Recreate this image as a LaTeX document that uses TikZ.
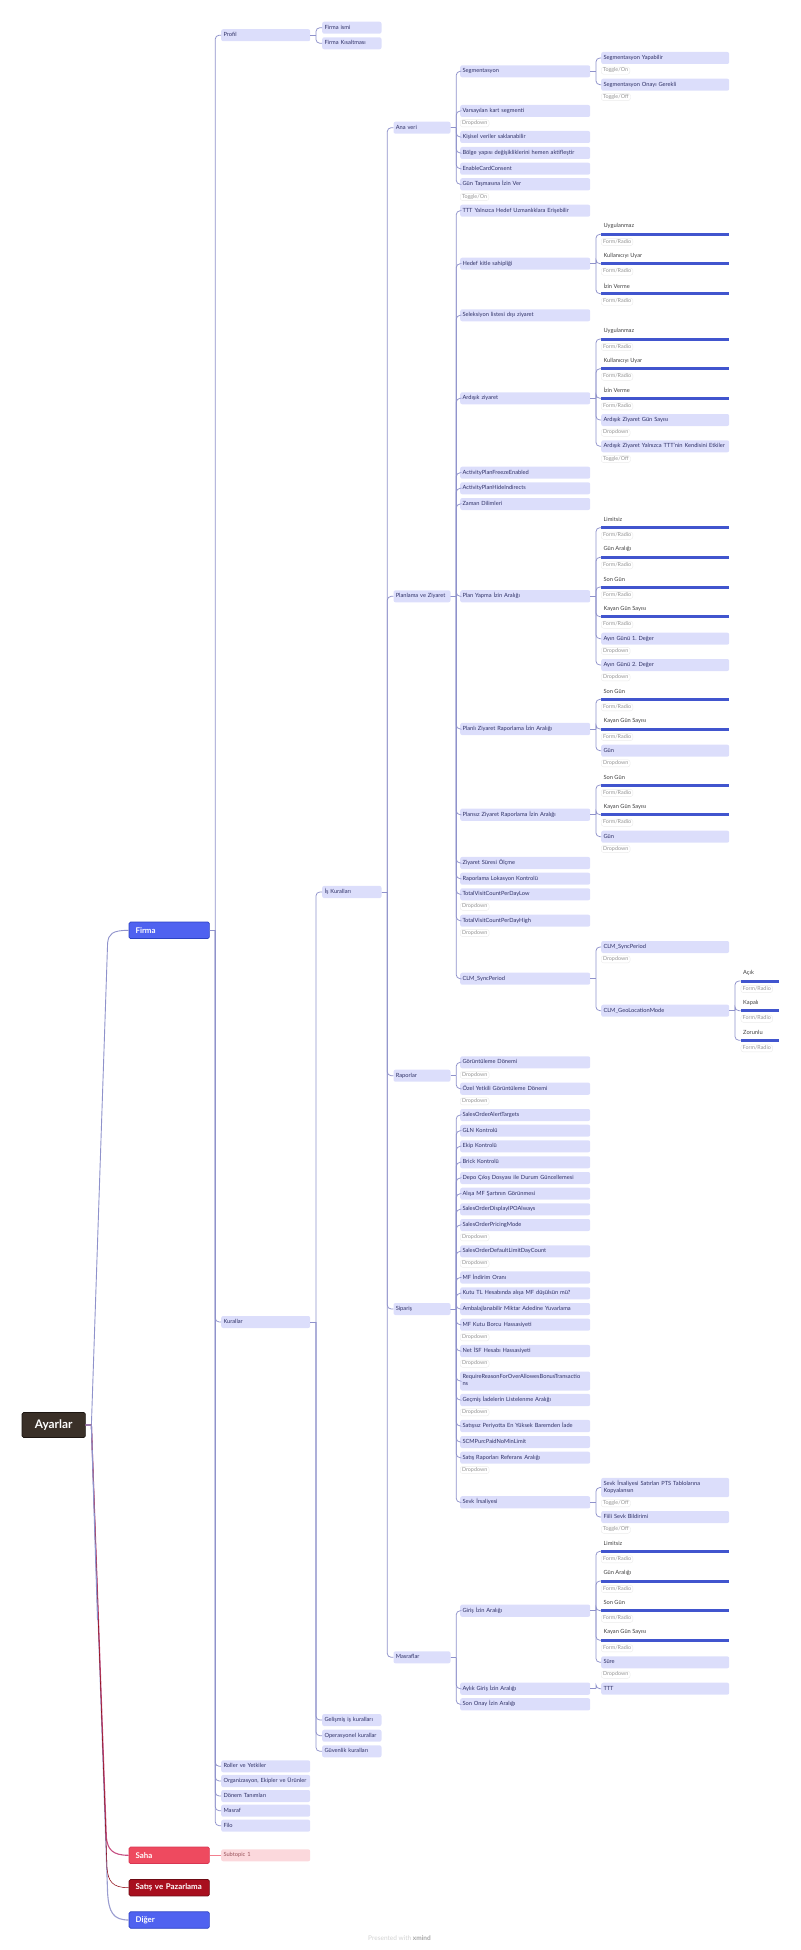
\documentclass[tikz,border=0pt]{standalone}
\usepackage{fontspec}
\setmainfont{Lato}
\frenchspacing
\definecolor{boxblue}{HTML}{DCDEFB}
\definecolor{boxtext}{HTML}{2F3166}
\definecolor{linkblue}{HTML}{8F92CB}
\definecolor{barblue}{HTML}{4155CE}
\definecolor{firmablue}{HTML}{4F62F0}
\definecolor{firmaedge}{HTML}{2C42C4}
\definecolor{sahared}{HTML}{EE4A5F}
\definecolor{sahaedge}{HTML}{D93552}
\definecolor{satisred}{HTML}{A80F1E}
\definecolor{satisedge}{HTML}{6E0A14}
\definecolor{rootbrown}{HTML}{3A3028}
\definecolor{rootedge}{HTML}{1C1612}
\definecolor{subpink}{HTML}{FBD8DC}
\tikzset{
	box/.style={anchor=west, align=left, fill=boxblue, text=boxtext, rounded corners=2pt, inner xsep=2.3pt, inner ysep=2.5pt, minimum height=12pt, font=\fontsize{5.7}{7}\selectfont, execute at begin node=\strut, execute at end node=\strut},
	boxtwo/.style={box, text width=84.4pt},
	boxthree/.style={box, text width=54.7pt},
	boxfour/.style={box, text width=52.4pt},
	boxfive/.style={box, text width=125.4pt},
	boxsix/.style={box, text width=123.4pt},
	barlabel/.style={anchor=west, yshift=8pt, inner xsep=2.3pt, text=black!75, font=\fontsize{5.7}{7}\selectfont},
	radiobar/.style={anchor=west, fill=barblue, inner sep=0pt, minimum height=3pt, label={[barlabel]west:#1}},
	barsix/.style={radiobar=#1, minimum width=128pt},
	barseven/.style={radiobar=#1, minimum width=38pt},
	tagbox/.style={anchor=west, draw=black!8, fill=white, text=black!42, rounded corners=2.5pt, inner xsep=1.8pt, inner ysep=0.6pt, line width=0.4pt, font=\fontsize{5.4}{6}\selectfont, execute at begin node=\strut},
	head/.style={anchor=west, text=white, rounded corners=1.5pt, line width=0.7pt, minimum width=80.3pt, minimum height=16.5pt, inner xsep=6.5pt, text width=67.3pt, align=left, font=\fontsize{7.9}{10}\selectfont\bfseries},
	link/.style={draw=linkblue, line width=0.75pt, rounded corners=4pt},
}
\begin{document}
\begin{tikzpicture}[x=1pt,y=-1pt]
	\useasboundingbox (0,0) rectangle (800,1950);
	\def\coltwo{221}
	\def\colthree{322}
	\def\colfour{393.3}
	\def\colfive{460}
	\def\colsix{601}
	\def\colseven{740.7}
	% main topics
	\node[anchor=west, fill=rootbrown, draw=rootedge, line width=0.7pt, text=white, rounded corners=1.5pt, minimum width=63.3pt, minimum height=25pt, align=center, font=\fontsize{11.8}{14}\selectfont\bfseries] (root) at (21.7,1425) {Ayarlar};
	\node[head, fill=firmablue, draw=firmaedge] (firma) at (128.7,930.3) {Firma};
	\node[head, fill=sahared, draw=sahaedge] (saha) at (128.7,1855.3) {Saha};
	\node[head, fill=satisred, draw=satisedge] (satis) at (128.7,1887.7) {\mbox{Satış ve Pazarlama}};
	\node[head, fill=firmablue, draw=firmaedge] (diger) at (128.7,1920) {Diğer};
	% firma
	\node[boxtwo] (profil) at (\coltwo,35.2) {Profil};
	\node[boxtwo] (kurallar) at (\coltwo,1322) {Kurallar};
	\node[boxtwo] (roller) at (\coltwo,1766.3) {Roller ve Yetkiler};
	\node[boxtwo] (organizasyon) at (\coltwo,1781) {Organizasyon, Ekipler ve Ürünler};
	\node[boxtwo] (donem) at (\coltwo,1796) {Dönem Tanımları};
	\node[boxtwo] (masraf) at (\coltwo,1810.7) {Masraf};
	\node[boxtwo] (filo) at (\coltwo,1825.7) {Filo};
	\node[boxtwo, fill=subpink, text=satisedge!70] (subtopic) at (\coltwo,1855.3) {Subtopic 1};
	\node[boxthree] (firmaismi) at (\colthree,27.7) {Firma ismi};
	\node[boxthree] (kisaltma) at (\colthree,43.3) {Firma Kısaltması};
	% kurallar
	\node[boxthree] (iskurallari) at (\colthree,892) {İş Kuralları};
	\node[boxthree] (gelismis) at (\colthree,1720) {Gelişmiş iş kuralları};
	\node[boxthree] (operasyonel) at (\colthree,1735.7) {Operasyonel kurallar};
	\node[boxthree] (guvenlik) at (\colthree,1751.3) {Güvenlik kuralları};
	\node[boxfour] (anaveri) at (\colfour,127.7) {Ana veri};
	\node[boxfour] (planlama) at (\colfour,596.3) {Planlama ve Ziyaret};
	\node[boxfour] (raporlar) at (\colfour,1075.7) {Raporlar};
	\node[boxfour] (siparis) at (\colfour,1309) {Sipariş};
	\node[boxfour] (masraflar) at (\colfour,1657.3) {Masraflar};
	% ana veri
	\node[boxfive] (segment) at (\colfive,71.3) {Segmentasyon};
	\node[boxfive] (varsayilan) at (\colfive,111) {Varsayılan kart segmenti};
	\node[boxfive] (kisisel) at (\colfive,137) {Kişisel veriler saklanabilir};
	\node[boxfive] (bolge) at (\colfive,153) {Bölge yapısı değişikliklerini hemen aktifleştir};
	\node[boxfive] (consent) at (\colfive,168.7) {EnableCardConsent};
	\node[boxfive] (tasma) at (\colfive,184.3) {Gün Taşmasına İzin Ver};
	\node[boxsix] (segyapabilir) at (\colsix,58) {Segmentasyon Yapabilir};
	\node[boxsix] (segonay) at (\colsix,84.7) {Segmentasyon Onayı Gerekli};
	% planlama ve ziyaret
	\node[boxfive] (yalnizca) at (\colfive,210.7) {TTT Yalnızca Hedef Uzmanlıklara Erişebilir};
	\node[boxfive] (hedef) at (\colfive,263.7) {Hedef kitle sahipliği};
	\node[boxfive] (seleksiyon) at (\colfive,315.3) {Seleksiyon listesi dışı ziyaret};
	\node[boxfive] (ardisik) at (\colfive,398.3) {Ardışık ziyaret};
	\node[boxfive] (freeze) at (\colfive,472.7) {ActivityPlanFreezeEnabled};
	\node[boxfive] (hide) at (\colfive,488.3) {ActivityPlanHideIndirects};
	\node[boxfive] (zaman) at (\colfive,504) {Zaman Dilimleri};
	\node[boxfive] (planyapma) at (\colfive,596.3) {Plan Yapma İzin Aralığı};
	\node[boxfive] (planli) at (\colfive,729) {Planlı Ziyaret Raporlama İzin Aralığı};
	\node[boxfive] (plansiz) at (\colfive,814.7) {Plansız Ziyaret Raporlama İzin Aralığı};
	\node[boxfive] (sure) at (\colfive,863) {Ziyaret Süresi Ölçme};
	\node[boxfive] (lokasyon) at (\colfive,878.7) {Raporlama Lokasyon Kontrolü};
	\node[boxfive] (countlow) at (\colfive,894.3) {TotalVisitCountPerDayLow};
	\node[boxfive] (counthigh) at (\colfive,920.7) {TotalVisitCountPerDayHigh};
	\node[boxfive] (clm) at (\colfive,978.7) {CLM\_SyncPeriod};
	\node[barsix=Uygulanmaz] (hedefa) at (\colsix,234.3) {};
	\node[barsix=Kullanıcıyı Uyar] (hedefb) at (\colsix,263.7) {};
	\node[barsix=İzin Verme] (hedefc) at (\colsix,293.7) {};
	\node[barsix=Uygulanmaz] (ardisika) at (\colsix,339) {};
	\node[barsix=Kullanıcıyı Uyar] (ardisikb) at (\colsix,368.7) {};
	\node[barsix=İzin Verme] (ardisikc) at (\colsix,398.3) {};
	\node[boxsix] (ardisikd) at (\colsix,420) {Ardışık Ziyaret Gün Sayısı};
	\node[boxsix] (ardisike) at (\colsix,446.3) {Ardışık Ziyaret Yalnızca TTT'nin Kendisini Etkiler};
	\node[barsix=Limitsiz] (plana) at (\colsix,527.7) {};
	\node[barsix=Gün Aralığı] (planb) at (\colsix,557.3) {};
	\node[barsix=Son Gün] (planc) at (\colsix,587) {};
	\node[barsix=Kayan Gün Sayısı] (pland) at (\colsix,616.7) {};
	\node[boxsix] (plane) at (\colsix,638.7) {Ayın Günü 1. Değer};
	\node[boxsix] (planf) at (\colsix,665) {Ayın Günü 2. Değer};
	\node[barsix=Son Gün] (planlia) at (\colsix,699.3) {};
	\node[barsix=Kayan Gün Sayısı] (planlib) at (\colsix,729) {};
	\node[boxsix] (planlic) at (\colsix,750.7) {Gün};
	\node[barsix=Son Gün] (plansiza) at (\colsix,785) {};
	\node[barsix=Kayan Gün Sayısı] (plansizb) at (\colsix,814.7) {};
	\node[boxsix] (plansizc) at (\colsix,836.7) {Gün};
	\node[boxsix] (clmsync) at (\colsix,947) {CLM\_SyncPeriod};
	\node[boxsix] (clmgeo) at (\colsix,1010.7) {CLM\_GeoLocationMode};
	\node[barseven=Açık] (geoa) at (\colseven,981) {};
	\node[barseven=Kapalı] (geob) at (\colseven,1010.7) {};
	\node[barseven=Zorunlu] (geoc) at (\colseven,1040.3) {};
	% raporlar
	\node[boxfive] (goruntu) at (\colfive,1062.3) {Görüntüleme Dönemi};
	\node[boxfive] (ozel) at (\colfive,1088.7) {Özel Yetkili Görüntüleme Dönemi};
	% siparis
	\node[boxfive] (alert) at (\colfive,1115) {SalesOrderAlertTargets};
	\node[boxfive] (gln) at (\colfive,1130.7) {GLN Kontrolü};
	\node[boxfive] (ekip) at (\colfive,1146.3) {Ekip Kontrolü};
	\node[boxfive] (brick) at (\colfive,1162.3) {Brick Kontrolü};
	\node[boxfive] (depo) at (\colfive,1178) {Depo Çıkış Dosyası ile Durum Güncellemesi};
	\node[boxfive] (alisa) at (\colfive,1193.7) {Alışa MF Şartının Görünmesi};
	\node[boxfive] (display) at (\colfive,1209.3) {SalesOrderDisplayIPOAlways};
	\node[boxfive] (pricing) at (\colfive,1225) {SalesOrderPricingMode};
	\node[boxfive] (limit) at (\colfive,1251.3) {SalesOrderDefaultLimitDayCount};
	\node[boxfive] (indirim) at (\colfive,1277.5) {MF İndirim Oranı};
	\node[boxfive] (kutu) at (\colfive,1293.3) {Kutu TL Hesabında alışa MF düşülsün mü?};
	\node[boxfive] (ambalaj) at (\colfive,1309) {Ambalajlanabilir Miktar Adedine Yuvarlama};
	\node[boxfive] (borcu) at (\colfive,1324.7) {MF Kutu Borcu Hassasiyeti};
	\node[boxfive] (isf) at (\colfive,1351) {Net İSF Hesabı Hassasiyeti};
	\node[boxfive] (require) at (\colfive,1381) {RequireReasonForOverAllowesBonusTransactio\\ns};
	\node[boxfive] (gecmis) at (\colfive,1400) {Geçmiş İadelerin Listelenme Aralığı};
	\node[boxfive] (satissiz) at (\colfive,1426) {Satışsız Periyotta En Yüksek Baremden İade};
	\node[boxfive] (scm) at (\colfive,1442) {SCMPurcPaidNoMinLimit};
	\node[boxfive] (referans) at (\colfive,1457.7) {Satış Raporları Referans Aralığı};
	\node[boxfive] (sevk) at (\colfive,1502.3) {Sevk İrsaliyesi};
	\node[boxsix] (sevka) at (\colsix,1487.5) {Sevk İrsaliyesi Satırları PTS Tablolarına\\Kopyalansın};
	\node[boxsix] (sevkb) at (\colsix,1517) {Fiili Sevk Bildirimi};
	% masraflar
	\node[boxfive] (giris) at (\colfive,1610.7) {Giriş İzin Aralığı};
	\node[boxfive] (aylik) at (\colfive,1688.7) {Aylık Giriş İzin Aralığı};
	\node[boxfive] (sononay) at (\colfive,1704.3) {Son Onay İzin Aralığı};
	\node[barsix=Limitsiz] (girisa) at (\colsix,1551.3) {};
	\node[barsix=Gün Aralığı] (girisb) at (\colsix,1581) {};
	\node[barsix=Son Gün] (girisc) at (\colsix,1610.7) {};
	\node[barsix=Kayan Gün Sayısı] (girisd) at (\colsix,1640.3) {};
	\node[boxsix] (girise) at (\colsix,1662.3) {Süre};
	\node[boxsix] (ttt) at (\colsix,1688.7) {TTT};
	% small tags under the options
	\foreach \x/\y/\txt [count=\i] in {
		\colfive/123.3/Dropdown, \colfive/197/Toggle\slash On, \colfive/906.7/Dropdown, \colfive/933/Dropdown,
		\colfive/1075/Dropdown, \colfive/1101.3/Dropdown, \colfive/1237.3/Dropdown, \colfive/1263.7/Dropdown,
		\colfive/1337.3/Dropdown, \colfive/1363.7/Dropdown, \colfive/1412.3/Dropdown, \colfive/1470/Dropdown,
		\colsix/70.7/Toggle\slash On, \colsix/97/Toggle\slash Off, \colsix/242/Form\slash Radio, \colsix/271.7/Form\slash Radio,
		\colsix/301.7/Form\slash Radio, \colsix/347/Form\slash Radio, \colsix/376.7/Form\slash Radio, \colsix/406.3/Form\slash Radio,
		\colsix/432.7/Dropdown, \colsix/459/Toggle\slash Off, \colsix/535.7/Form\slash Radio, \colsix/565.3/Form\slash Radio,
		\colsix/595/Form\slash Radio, \colsix/624.7/Form\slash Radio, \colsix/651/Dropdown, \colsix/677.3/Dropdown,
		\colsix/707.3/Form\slash Radio, \colsix/737/Form\slash Radio, \colsix/763.3/Dropdown, \colsix/793/Form\slash Radio,
		\colsix/822.7/Form\slash Radio, \colsix/849/Dropdown, \colsix/959.3/Dropdown, \colsix/1503.3/Toggle\slash Off,
		\colsix/1529.7/Toggle\slash Off, \colsix/1559.3/Form\slash Radio, \colsix/1589/Form\slash Radio, \colsix/1618.7/Form\slash Radio,
		\colsix/1648.3/Form\slash Radio, \colsix/1674.7/Dropdown, \colseven/989/Form\slash Radio, \colseven/1018.7/Form\slash Radio,
		\colseven/1048.3/Form\slash Radio}
		\node[tagbox] (tag\i) at (\x,\y) {\txt};
	\node[text=black!18, font=\fontsize{6.5}{8}\selectfont] (presented) at (399.5,1937.7) {Presented with \textcolor{black!35}{\textbf{xmind}}};
	% branches
	\foreach \from/\to in {firma/profil, firma/kurallar, firma/roller, firma/organizasyon, firma/donem, firma/masraf, firma/filo,
		profil/firmaismi, profil/kisaltma,
		kurallar/iskurallari, kurallar/gelismis, kurallar/operasyonel, kurallar/guvenlik,
		iskurallari/anaveri, iskurallari/planlama, iskurallari/raporlar, iskurallari/siparis, iskurallari/masraflar,
		anaveri/segment, anaveri/varsayilan, anaveri/kisisel, anaveri/bolge, anaveri/consent, anaveri/tasma,
		segment/segyapabilir, segment/segonay,
		planlama/yalnizca, planlama/hedef, planlama/seleksiyon, planlama/ardisik, planlama/freeze, planlama/hide, planlama/zaman,
		planlama/planyapma, planlama/planli, planlama/plansiz, planlama/sure, planlama/lokasyon, planlama/countlow, planlama/counthigh, planlama/clm,
		hedef/hedefa, hedef/hedefb, hedef/hedefc,
		ardisik/ardisika, ardisik/ardisikb, ardisik/ardisikc, ardisik/ardisikd, ardisik/ardisike,
		planyapma/plana, planyapma/planb, planyapma/planc, planyapma/pland, planyapma/plane, planyapma/planf,
		planli/planlia, planli/planlib, planli/planlic,
		plansiz/plansiza, plansiz/plansizb, plansiz/plansizc,
		clm/clmsync, clm/clmgeo, clmgeo/geoa, clmgeo/geob, clmgeo/geoc,
		raporlar/goruntu, raporlar/ozel,
		siparis/alert, siparis/gln, siparis/ekip, siparis/brick, siparis/depo, siparis/alisa, siparis/display, siparis/pricing,
		siparis/limit, siparis/indirim, siparis/kutu, siparis/ambalaj, siparis/borcu, siparis/isf, siparis/require, siparis/gecmis,
		siparis/satissiz, siparis/scm, siparis/referans, siparis/sevk,
		sevk/sevka, sevk/sevkb,
		masraflar/giris, masraflar/aylik, masraflar/sononay,
		giris/girisa, giris/girisb, giris/girisc, giris/girisd, giris/girise,
		aylik/ttt}{
		\draw[link] (\from.east) -- ++(5.5,0) coordinate (spine);
		\draw[link] (spine) |- (\to.west);
	}
	\draw[draw=sahared!70, line width=0.75pt] (saha.east) -- (subtopic.west);
	% long lines from the root
	\draw[draw=linkblue, line width=0.9pt] (root.east) -- ++(5.7,0) -- (107.6,943) .. controls (108.6,934) and (112,930.3) .. (firma.west);
	\draw[draw=linkblue!90, line width=1.1pt] (root.east) -- ++(5.7,0) -- (107.6,1893) .. controls (108.8,1912) and (113,1920) .. (diger.west);
	\draw[draw=sahared!75!firmablue, line width=1.1pt] (root.east) -- ++(5.7,0) -- (106.4,1838) .. controls (107.8,1849) and (112,1855.3) .. (saha.west);
	\draw[draw=satisred!85!black, line width=0.55pt] (root.east) -- ++(5.7,0) -- (107,1868) .. controls (108.2,1881) and (112,1887.7) .. (satis.west);
	\coordinate (fade) at (97.6,1620);
	\draw[draw=linkblue, line width=1.1pt] (root.east) -- ++(5.7,0) -- (fade);
\end{tikzpicture}
\end{document}
